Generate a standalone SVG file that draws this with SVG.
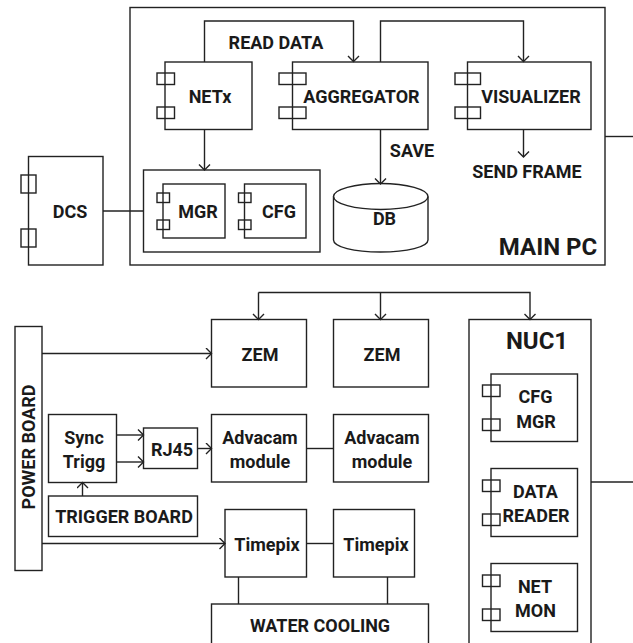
<svg xmlns="http://www.w3.org/2000/svg" width="633" height="643" viewBox="0 0 633 643">
<style>
rect,path,ellipse{fill:none;stroke:#222;stroke-width:1.4}
text{font-family:Roboto,"Liberation Sans",sans-serif;font-weight:700;font-size:18px;fill:#1a1a1a;text-anchor:middle}
.big{font-size:24px}
</style>
<defs>
<marker id="a" markerUnits="userSpaceOnUse" markerWidth="14" markerHeight="14" refX="10.5" refY="6" orient="auto"><path d="M5 0.500L10.500 6L5 11.500"/></marker>
</defs>
<rect width="633" height="643" style="fill:#fff;stroke:none"/>
<g id="main-pc"><rect x="130" y="7.500" width="475" height="257.500"/><text class="big" x="548" y="255">MAIN PC</text></g>
<g id="connectors">
<path d="M204.500 62V21H353.500V61.500" marker-end="url(#a)"/>
<path d="M380.500 62V21H523.500V61.500" marker-end="url(#a)"/>
<path d="M204.500 130V170" marker-end="url(#a)"/>
<path d="M380.500 130V184" marker-end="url(#a)"/>
<path d="M523.500 130V157" marker-end="url(#a)"/>
<path d="M103 211H143.500"/>
<path d="M605 136.500H633"/>
<path d="M258.500 292.500H530V319.500" marker-end="url(#a)"/>
<path d="M258.500 292.500V319.500" marker-end="url(#a)"/>
<path d="M380.500 292.500V319.500" marker-end="url(#a)"/>
<path d="M42 353.500H211.500" marker-end="url(#a)"/>
<path d="M116.500 435H143.500" marker-end="url(#a)"/>
<path d="M116.500 462H143.500" marker-end="url(#a)"/>
<path d="M197.500 448.500H211.500" marker-end="url(#a)"/>
<path d="M306.500 448.500H333.500"/>
<path d="M82.500 496V482.500" marker-end="url(#a)"/>
<path d="M42 543.500H225" marker-end="url(#a)"/>
<path d="M306.500 543.500H333.500"/>
<path d="M238.500 577V604"/>
<path d="M387.500 577V604"/>
<path d="M591 482H633"/>
</g>
<g id="read-data"><text x="276" y="49">READ DATA</text></g>
<g id="netx"><rect x="165" y="62" width="87" height="67.500"/><rect x="157" y="73" width="17.500" height="11.500"/><rect x="157" y="107" width="17.500" height="11.500"/><text x="210" y="103">NETx</text></g>
<g id="aggregator"><rect x="292.500" y="62" width="135.500" height="67.500"/><rect x="279" y="73" width="27" height="11.500"/><rect x="279" y="107" width="27" height="11.500"/><text x="361.500" y="103">AGGREGATOR</text></g>
<g id="visualizer"><rect x="467.500" y="62" width="123.500" height="67.500"/><rect x="455" y="73" width="25.500" height="11.500"/><rect x="455" y="107" width="25.500" height="11.500"/><text x="531" y="103">VISUALIZER</text></g>
<g id="mgr-cfg"><rect x="143.500" y="170" width="176.500" height="82"/></g>
<g id="mgr"><rect x="163" y="184" width="62" height="54"/><rect x="157" y="193" width="12.500" height="9.500"/><rect x="157" y="220" width="12.500" height="9.500"/><text x="198" y="218">MGR</text></g>
<g id="cfg"><rect x="244.500" y="184" width="61.500" height="54"/><rect x="238.500" y="193" width="12.500" height="9.500"/><rect x="238.500" y="220" width="12.500" height="9.500"/><text x="279" y="218">CFG</text></g>
<g id="dcs"><rect x="28.500" y="156.500" width="74.500" height="108.500"/><rect x="21" y="175" width="15" height="18"/><rect x="21" y="229" width="15" height="18"/><text x="70" y="218">DCS</text></g>
<g id="db"><path d="M333.500 196.500V240C333.500 247 354 252 380.500 252S428 247 428 240V196.500"/><ellipse cx="380.750" cy="196.500" rx="47.250" ry="13"/><text x="384.500" y="225">DB</text></g>
<g id="save"><text x="412" y="157">SAVE</text></g>
<g id="send-frame"><text x="527" y="178">SEND FRAME</text></g>
<g id="power-board"><rect x="15" y="326.500" width="27" height="244"/><text transform="translate(35 447) rotate(-90)">POWER BOARD</text></g>
<g id="zem1"><rect x="211.500" y="319.500" width="95" height="67.500"/><text x="260" y="361">ZEM</text></g>
<g id="zem2"><rect x="333.500" y="319.500" width="95" height="67.500"/><text x="382" y="361">ZEM</text></g>
<g id="sync"><rect x="48.500" y="414.500" width="68" height="68"/><text x="84" y="444">Sync</text><text x="84" y="468">Trigg</text></g>
<g id="rj45"><rect x="143.500" y="428" width="54" height="40.500"/><text x="172" y="455.500">RJ45</text></g>
<g id="adv1"><rect x="211.500" y="414.500" width="95" height="67.500"/><text x="260" y="444">Advacam</text><text x="260" y="468">module</text></g>
<g id="adv2"><rect x="333.500" y="414.500" width="95" height="67.500"/><text x="382" y="444">Advacam</text><text x="382" y="468">module</text></g>
<g id="trigger"><rect x="48.500" y="496" width="149" height="40.500"/><text x="124" y="523">TRIGGER BOARD</text></g>
<g id="timepix1"><rect x="225" y="509.500" width="81.500" height="67.500"/><text x="267" y="550.500">Timepix</text></g>
<g id="timepix2"><rect x="333.500" y="509.500" width="81" height="67.500"/><text x="376" y="550.500">Timepix</text></g>
<g id="water"><rect x="211.500" y="604" width="217" height="50"/><text x="320" y="632">WATER COOLING</text></g>
<g id="nuc1"><rect x="469" y="319.500" width="122" height="335"/><text class="big" x="537" y="349">NUC1</text></g>
<g id="cfgmgr"><rect x="491" y="374" width="86.500" height="67.500"/><rect x="482.500" y="385" width="17.500" height="11.500"/><rect x="482.500" y="419" width="17.500" height="11.500"/><text x="535.500" y="403">CFG</text><text x="536" y="427.500">MGR</text></g>
<g id="datareader"><rect x="491" y="468.500" width="86.500" height="68"/><rect x="482.500" y="480" width="17.500" height="11.500"/><rect x="482.500" y="514" width="17.500" height="11.500"/><text x="535.500" y="497.500">DATA</text><text x="536" y="522">READER</text></g>
<g id="netmon"><rect x="491" y="563.500" width="86.500" height="68"/><rect x="482.500" y="575" width="17.500" height="11.500"/><rect x="482.500" y="609" width="17.500" height="11.500"/><text x="535" y="592.500">NET</text><text x="535.500" y="617">MON</text></g>
</svg>
